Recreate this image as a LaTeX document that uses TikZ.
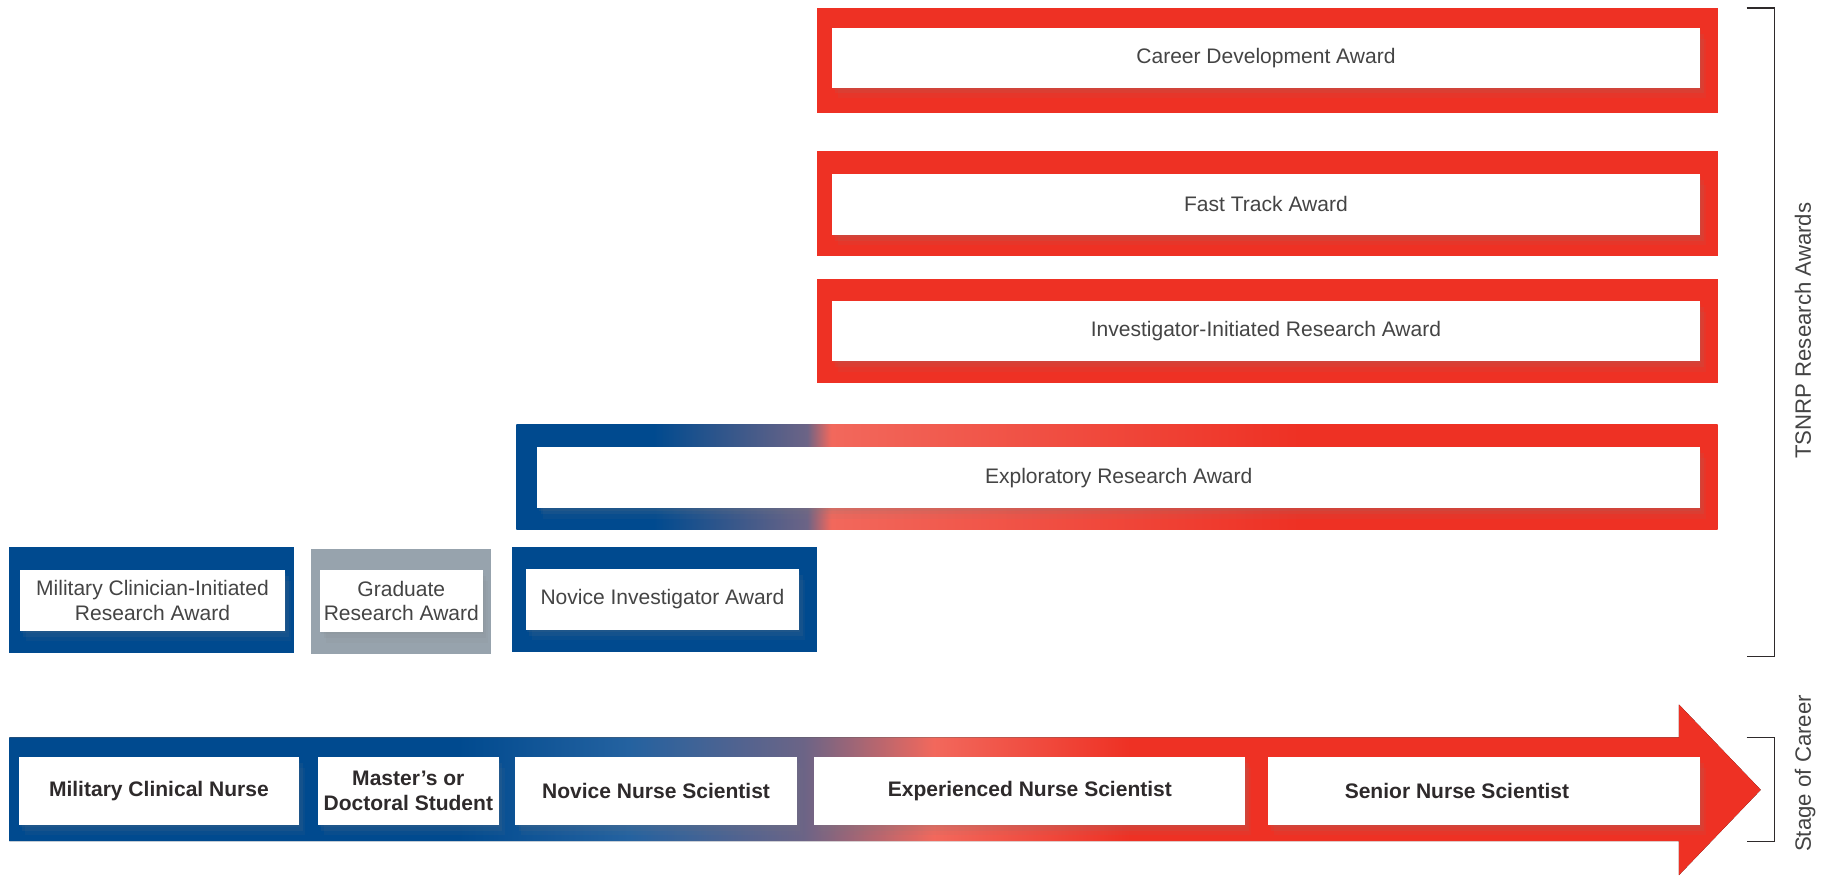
\documentclass[tikz,border=0pt]{standalone}
\usepackage{fontspec}
\setmainfont{Liberation Sans}
\usetikzlibrary{shadows}

\definecolor{tsblue}{HTML}{004A8F}
\definecolor{tsred}{HTML}{EE3124}
\definecolor{tsgray}{HTML}{97A3AD}
\definecolor{tslight}{HTML}{2462A0}
\definecolor{tspurple}{HTML}{6C6486}
\definecolor{tssalmon}{HTML}{F2685C}
\definecolor{tstext}{HTML}{444444}
\definecolor{tsdark}{HTML}{2E2A2B}

% blue to red, stops kept between 25bp and 75bp
\pgfdeclarehorizontalshading{explshade}{100bp}{color(0bp)=(tsblue); color(30.7bp)=(tsblue);
  color(37.1bp)=(tspurple); color(38.1bp)=(tssalmon); color(57.6bp)=(tsred); color(100bp)=(tsred)}
\pgfdeclarehorizontalshading{stageshade}{100bp}{color(0bp)=(tsblue); color(37.8bp)=(tsblue);
  color(42.7bp)=(tslight); color(47.7bp)=(tspurple); color(51.4bp)=(tssalmon);
  color(57bp)=(tsred); color(100bp)=(tsred)}

\begin{document}
\begin{tikzpicture}[x=1pt, y=-1pt,
  frame/.style={anchor=north west, inner sep=0pt, outer sep=0pt},
  card/.style={frame, fill=white, text=tstext, align=center,
    font=\fontsize{18}{21}\selectfont,
    drop shadow={shadow xshift=1pt, shadow yshift=-2pt, opacity=.10},
    drop shadow={shadow xshift=3pt, shadow yshift=-5pt, opacity=.10},
    drop shadow={shadow xshift=5pt, shadow yshift=-9pt, opacity=.07}},
  stagecard/.style={card, text=tsdark, font=\fontsize{18}{21}\selectfont\bfseries},
  bracket/.style={draw=tsdark, line width=1.2pt},
  side/.style={rotate=90, text=tstext, font=\fontsize{19}{22}\selectfont}]

\useasboundingbox (0,0) rectangle (1568,755);

% red awards
\node [frame, fill=tsred, minimum width=771pt, minimum height=90pt] (cdaF) at (699,7) {};
\node [card, minimum width=743pt, minimum height=51pt] (cda) at (712,24) {Career Development Award};
\node [frame, fill=tsred, minimum width=771pt, minimum height=90pt] (ftaF) at (699,129) {};
\node [card, minimum width=743pt, minimum height=52pt] (fta) at (712,149) {Fast Track Award};
\node [frame, fill=tsred, minimum width=771pt, minimum height=89pt] (iiraF) at (699,239) {};
\node [card, minimum width=743pt, minimum height=51pt] (iira) at (712,258) {Investigator-Initiated Research Award};

% exploratory, blue into red
\node [frame, shading=explshade, minimum width=1028pt, minimum height=90pt] (eraF) at (442,363) {};
\node [card, minimum width=995pt, minimum height=52pt] (era) at (460,383) {Exploratory Research Award};

% early awards
\node [frame, fill=tsblue, minimum width=244pt, minimum height=91pt] (mciraF) at (8,468) {};
\node [card, minimum width=227pt, minimum height=52pt] (mcira) at (17,488) {Military Clinician-Initiated\\Research Award};
\node [frame, fill=tsgray, minimum width=154pt, minimum height=90pt] (graF) at (266,470) {};
\node [card, minimum width=139pt, minimum height=53pt] (gra) at (274,488) {Graduate\\Research Award};
\node [frame, fill=tsblue, minimum width=261pt, minimum height=90pt] (niaF) at (438,468) {};
\node [card, minimum width=234pt, minimum height=52pt] (nia) at (450,487) {Novice Investigator Award};

% career arrow
\fill [shading=stageshade] (8,631) -- (1437,631) -- (1437,603) -- (1507,676)
  -- (1437,749) -- (1437,720) -- (8,720) -- cycle;
\node [stagecard, minimum width=240pt, minimum height=58pt] (mcn) at (16,648) {Military Clinical Nurse};
\node [stagecard, minimum width=155pt, minimum height=58pt] (mds) at (272,648) {Master's or\\Doctoral Student};
\node [stagecard, minimum width=241pt, minimum height=58pt] (nns) at (441,648) {Novice Nurse Scientist};
\node [stagecard, minimum width=369pt, minimum height=58pt] (ens) at (697,648) {Experienced Nurse Scientist};
\node [stagecard, minimum width=370pt, minimum height=58pt] (sns) at (1085,648) {Senior Nurse Scientist\hspace*{46pt}};

% brackets
\coordinate (awTop) at (1495,7);
\coordinate (awBot) at (1495,562);
\draw [bracket] (awTop) -- ++(24,0) |- (awBot);
\node [side] (awLabel) at (1543,283) {TSNRP Research Awards};

\coordinate (scTop) at (1495,631);
\coordinate (scBot) at (1495,720);
\draw [bracket] (scTop) -- ++(24,0) |- (scBot);
\node [side] (scLabel) at (1545,662) {Stage of Career};

\end{tikzpicture}
\end{document}
